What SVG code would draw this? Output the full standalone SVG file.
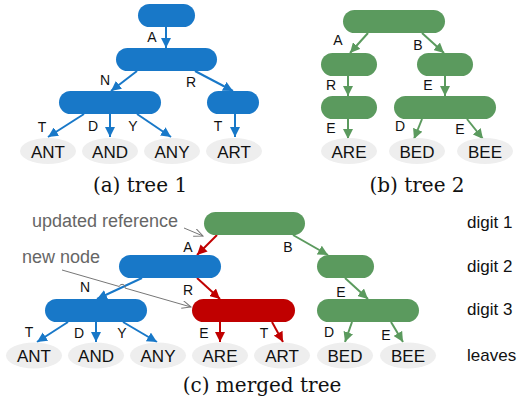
<svg xmlns="http://www.w3.org/2000/svg" width="517" height="409" viewBox="0 0 517 409">
<style>
.b{fill:#1878C8}.g{fill:#5B9A5E}.r{fill:#C00000}
.leaf{fill:#EEEEEE}
.lt{font-family:"Liberation Sans",Arial,sans-serif;font-size:17px;fill:#111;text-anchor:middle}
.el{font-family:"Liberation Sans",Arial,sans-serif;font-size:14px;fill:#111;text-anchor:middle}
.cap{font-family:"DejaVu Serif",serif;font-size:20px;fill:#111;text-anchor:middle}
.dg{font-family:"Liberation Sans",Arial,sans-serif;font-size:17px;fill:#111}
.gt{font-family:"Liberation Sans",Arial,sans-serif;font-size:18px;fill:#666}
.eb{stroke:#1878C8;stroke-width:2;fill:none;marker-end:url(#mb)}
.eg{stroke:#5B9A5E;stroke-width:2;fill:none;marker-end:url(#mg)}
.er{stroke:#C00000;stroke-width:2;fill:none;marker-end:url(#mr)}
.ey{stroke:#777;stroke-width:1;fill:none;marker-end:url(#my)}
</style>
<defs>
<marker id="mb" markerUnits="userSpaceOnUse" markerWidth="10" markerHeight="10" refX="10" refY="5" orient="auto"><path d="M0,0L10,5L0,10z" fill="#1878C8"/></marker>
<marker id="mg" markerUnits="userSpaceOnUse" markerWidth="10" markerHeight="10" refX="10" refY="5" orient="auto"><path d="M0,0L10,5L0,10z" fill="#5B9A5E"/></marker>
<marker id="mr" markerUnits="userSpaceOnUse" markerWidth="10" markerHeight="10" refX="10" refY="5" orient="auto"><path d="M0,0L10,5L0,10z" fill="#C00000"/></marker>
<marker id="my" markerUnits="userSpaceOnUse" markerWidth="10" markerHeight="10" refX="9" refY="4" orient="auto"><path d="M0,0L9,4L0,8" fill="none" stroke="#777" stroke-width="1"/></marker>
</defs>

<g id="connectors">
<!-- tree 1 -->
<path class="eb" d="M166,27L166,48"/>
<path class="eb" d="M137,71L111,91"/>
<path class="eb" d="M195,71L233,91"/>
<path class="eb" d="M84,114L48,137"/>
<path class="eb" d="M110,114L110,137"/>
<path class="eb" d="M137,114L171,137"/>
<path class="eb" d="M235,114L235,137"/>
<!-- tree 2 -->
<path class="eg" d="M368,33L350,53"/>
<path class="eg" d="M422,33L444,53"/>
<path class="eg" d="M348,76L348,96"/>
<path class="eg" d="M445,76L445,96"/>
<path class="eg" d="M348,119L348,139"/>
<path class="eg" d="M422,119L414,139"/>
<path class="eg" d="M467,119L483,139"/>
<!-- merged -->
<path class="er" d="M217,235L197,255"/>
<path class="eg" d="M293,235L328,255"/>
<path class="eb" d="M142,278L97,299"/>
<path class="er" d="M197,278L220,299"/>
<path class="eg" d="M345,278L368,299"/>
<path class="eb" d="M68,322L37,342"/>
<path class="eb" d="M96,322L96,342"/>
<path class="eb" d="M123,322L157,342"/>
<path class="er" d="M220,322L220,342"/>
<path class="er" d="M272,322L283,342"/>
<path class="eg" d="M352,322L345,342"/>
<path class="eg" d="M391,322L403,342"/>
<!-- annotation pointers -->
<path class="ey" d="M184,228L203,236"/>
<path class="ey" d="M62,270L119.3,286.5A3,3 0 0 1 125.1,288.1L191,307"/>
</g>

<g id="edge-labels">
<text class="el" x="152" y="42">A</text>
<text class="el" x="105" y="85">N</text>
<text class="el" x="191" y="87">R</text>
<text class="el" x="42" y="132">T</text>
<text class="el" x="93" y="131">D</text>
<text class="el" x="133" y="131">Y</text>
<text class="el" x="218" y="131">T</text>
<text class="el" x="338" y="45">A</text>
<text class="el" x="418" y="50">B</text>
<text class="el" x="331" y="90">R</text>
<text class="el" x="428" y="90">E</text>
<text class="el" x="331" y="133">E</text>
<text class="el" x="400" y="131">D</text>
<text class="el" x="460" y="134">E</text>
<text class="el" x="188" y="252">A</text>
<text class="el" x="288" y="252">B</text>
<text class="el" x="85" y="292">N</text>
<text class="el" x="188" y="295">R</text>
<text class="el" x="341" y="297">E</text>
<text class="el" x="29" y="337">T</text>
<text class="el" x="79" y="338">D</text>
<text class="el" x="122" y="338">Y</text>
<text class="el" x="204" y="338">E</text>
<text class="el" x="264" y="338">T</text>
<text class="el" x="329" y="337">D</text>
<text class="el" x="386" y="340">E</text>
</g>

<!-- tree 1 nodes -->
<g id="t1-root"><rect class="b" x="138" y="4" width="57" height="23" rx="11.5"/></g>
<g id="t1-A"><rect class="b" x="116" y="48" width="101" height="23" rx="11.5"/></g>
<g id="t1-AN"><rect class="b" x="59" y="91" width="102" height="23" rx="11.5"/></g>
<g id="t1-AR"><rect class="b" x="207" y="91" width="52" height="23" rx="11.5"/></g>
<g id="t1-ANT"><ellipse class="leaf" cx="48" cy="151" rx="28" ry="13"/><text class="lt" x="48" y="157.5">ANT</text></g>
<g id="t1-AND"><ellipse class="leaf" cx="110" cy="151" rx="28" ry="13"/><text class="lt" x="110" y="157.5">AND</text></g>
<g id="t1-ANY"><ellipse class="leaf" cx="172" cy="151" rx="28" ry="13"/><text class="lt" x="172" y="157.5">ANY</text></g>
<g id="t1-ART"><ellipse class="leaf" cx="234" cy="151" rx="28" ry="13"/><text class="lt" x="234" y="157.5">ART</text></g>
<text class="cap" x="140" y="192">(a) tree 1</text>

<!-- tree 2 nodes -->
<g id="t2-root"><rect class="g" x="343" y="10" width="102" height="23" rx="11.5"/></g>
<g id="t2-A"><rect class="g" x="321" y="53" width="56" height="23" rx="11.5"/></g>
<g id="t2-B"><rect class="g" x="417" y="53" width="56" height="23" rx="11.5"/></g>
<g id="t2-AR"><rect class="g" x="321" y="96" width="56" height="23" rx="11.5"/></g>
<g id="t2-BE"><rect class="g" x="394" y="96" width="102" height="23" rx="11.5"/></g>
<g id="t2-ARE"><ellipse class="leaf" cx="349" cy="151" rx="28" ry="13"/><text class="lt" x="349" y="157.5">ARE</text></g>
<g id="t2-BED"><ellipse class="leaf" cx="417" cy="151" rx="28" ry="13"/><text class="lt" x="417" y="157.5">BED</text></g>
<g id="t2-BEE"><ellipse class="leaf" cx="485" cy="151" rx="28" ry="13"/><text class="lt" x="485" y="157.5">BEE</text></g>
<text class="cap" x="417" y="192">(b) tree 2</text>

<!-- merged tree nodes -->
<g id="m-root"><rect class="g" x="204" y="212" width="101" height="23" rx="11.5"/></g>
<g id="m-A"><rect class="b" x="119" y="255" width="102" height="23" rx="11.5"/></g>
<g id="m-B"><rect class="g" x="317" y="255" width="57" height="23" rx="11.5"/></g>
<g id="m-AN"><rect class="b" x="45" y="299" width="102" height="23" rx="11.5"/></g>
<g id="m-AR"><rect class="r" x="192" y="299" width="103" height="23" rx="11.5"/></g>
<g id="m-BE"><rect class="g" x="317" y="299" width="102" height="23" rx="11.5"/></g>
<g id="m-ANT"><ellipse class="leaf" cx="34" cy="355.5" rx="28" ry="13"/><text class="lt" x="34" y="362">ANT</text></g>
<g id="m-AND"><ellipse class="leaf" cx="96" cy="355.5" rx="28" ry="13"/><text class="lt" x="96" y="362">AND</text></g>
<g id="m-ANY"><ellipse class="leaf" cx="158" cy="355.5" rx="28" ry="13"/><text class="lt" x="158" y="362">ANY</text></g>
<g id="m-ARE"><ellipse class="leaf" cx="220" cy="355.5" rx="28" ry="13"/><text class="lt" x="220" y="362">ARE</text></g>
<g id="m-ART"><ellipse class="leaf" cx="282" cy="355.5" rx="28" ry="13"/><text class="lt" x="282" y="362">ART</text></g>
<g id="m-BED"><ellipse class="leaf" cx="345" cy="355.5" rx="28" ry="13"/><text class="lt" x="345" y="362">BED</text></g>
<g id="m-BEE"><ellipse class="leaf" cx="408" cy="355.5" rx="28" ry="13"/><text class="lt" x="408" y="362">BEE</text></g>
<text class="cap" x="262" y="392">(c) merged tree</text>

<g id="annotations">
<text class="gt" x="32" y="227">updated reference</text>
<text class="gt" x="22" y="263">new node</text>
<text class="dg" x="467" y="228">digit 1</text>
<text class="dg" x="467" y="272">digit 2</text>
<text class="dg" x="467" y="315">digit 3</text>
<text class="dg" x="467" y="361">leaves</text>
</g>
</svg>
